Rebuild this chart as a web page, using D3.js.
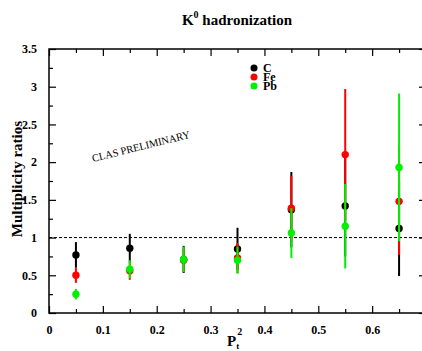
<!DOCTYPE html>
<html>
<head>
<meta charset="utf-8">
<script src="https://cdn.jsdelivr.net/npm/d3@7"></script>
<style>
  body { margin: 0; background: #fff; }
  svg { font-family: "Liberation Serif", "DejaVu Serif", serif; }
</style>
</head>
<body>
<svg id="chart" width="422" height="351"></svg>
<script>
// pt^2 bin centres
const ptBins = [0.05, 0.15, 0.25, 0.35, 0.45, 0.55, 0.65];

// multiplicity ratios and errors
const carbonVals = [0.77, 0.86, 0.71, 0.85, 1.37, 1.42, 1.12];
const carbonErrs = [0.17, 0.19, 0.18, 0.28, 0.50, 0.67, 0.63];
const ironVals = [0.50, 0.56, 0.70, 0.73, 1.39, 2.10, 1.48];
const ironErrs = [0.10, 0.12, 0.15, 0.20, 0.43, 0.87, 0.71];
const leadVals = [0.25, 0.58, 0.71, 0.70, 1.06, 1.15, 1.93];
const leadErrs = [0.07, 0.12, 0.17, 0.18, 0.33, 0.56, 0.98];

const targets = ['C', 'Fe', 'Pb'];
const colors = ['#000000', '#ff0000', '#00f000'];

const xTicks = [0, 0.1, 0.2, 0.3, 0.4, 0.5, 0.6];
const yTicks = [0, 0.5, 1, 1.5, 2, 2.5, 3, 3.5];

const mLeft = 49, mRight = 426, mTop = 49, mBottom = 313;

const x = d3.scaleLinear().domain([0, 0.7]).range([mLeft, mRight]);
const y = d3.scaleLinear().domain([0, 3.5]).range([mBottom, mTop]);

const svg = d3.select('#chart');

// frame
svg.append('rect')
  .attr('x', mLeft).attr('y', mTop)
  .attr('width', mRight - mLeft).attr('height', mBottom - mTop)
  .attr('fill', 'none').attr('stroke', '#000').attr('stroke-width', 1.5);

// axes, ticks drawn inward
const minorX = d3.range(0.05, 0.7, 0.1);
const minorY = d3.range(0.25, 3.5, 0.5);

svg.append('g').attr('transform', `translate(0,${mBottom})`)
  .call(d3.axisBottom(x).tickValues(xTicks).tickSizeInner(-7).tickSizeOuter(0).tickPadding(12)
    .tickFormat(d => d === 0 ? '0' : d3.format('.1f')(d)));
svg.append('g').attr('transform', `translate(0,${mBottom})`)
  .call(d3.axisBottom(x).tickValues(minorX).tickSizeInner(-4).tickSizeOuter(0).tickFormat(''));
svg.append('g').attr('transform', `translate(0,${mTop})`)
  .call(d3.axisTop(x).tickValues(xTicks).tickSizeInner(-7).tickSizeOuter(0).tickFormat(''));
svg.append('g').attr('transform', `translate(0,${mTop})`)
  .call(d3.axisTop(x).tickValues(minorX).tickSizeInner(-4).tickSizeOuter(0).tickFormat(''));

svg.append('g').attr('transform', `translate(${mLeft},0)`)
  .call(d3.axisLeft(y).tickValues(yTicks).tickSizeInner(-7).tickSizeOuter(0).tickPadding(12)
    .tickFormat(d => d === 0 ? '0' : (Number.isInteger(d) ? d : d3.format('.1f')(d))));
svg.append('g').attr('transform', `translate(${mLeft},0)`)
  .call(d3.axisLeft(y).tickValues(minorY).tickSizeInner(-4).tickSizeOuter(0).tickFormat(''));
svg.append('g').attr('transform', `translate(${mRight},0)`)
  .call(d3.axisRight(y).tickValues(yTicks).tickSizeInner(-7).tickSizeOuter(0).tickFormat(''));
svg.append('g').attr('transform', `translate(${mRight},0)`)
  .call(d3.axisRight(y).tickValues(minorY).tickSizeInner(-4).tickSizeOuter(0).tickFormat(''));

svg.selectAll('.domain').remove();
svg.selectAll('.tick line').attr('stroke', '#000').attr('stroke-width', 1.2);
svg.selectAll('.tick text')
  .attr('font-family', '"Liberation Serif", serif')
  .attr('font-weight', 'bold').attr('font-size', 12).attr('fill', '#000');

// reference line at ratio 1
svg.append('line')
  .attr('x1', mLeft).attr('x2', mRight)
  .attr('y1', y(1)).attr('y2', y(1))
  .attr('stroke', '#000').attr('stroke-width', 1)
  .attr('stroke-dasharray', '3,2');

// data series
const series = [
  { name: 'C', vals: carbonVals, errs: carbonErrs, color: colors[0] },
  { name: 'Fe', vals: ironVals, errs: ironErrs, color: colors[1] },
  { name: 'Pb', vals: leadVals, errs: leadErrs, color: colors[2] }
];

series.forEach(s => {
  const g = svg.append('g');
  const pts = ptBins.map((p, i) => ({ p, v: s.vals[i], e: s.errs[i] }));
  g.selectAll('line.err').data(pts).enter().append('line')
    .attr('class', 'err')
    .attr('x1', d => x(d.p)).attr('x2', d => x(d.p))
    .attr('y1', d => y(d.v - d.e)).attr('y2', d => y(d.v + d.e))
    .attr('stroke', s.color).attr('stroke-width', 2);
  g.selectAll('circle').data(pts).enter().append('circle')
    .attr('cx', d => x(d.p)).attr('cy', d => y(d.v))
    .attr('r', 3.7).attr('fill', s.color);
});

// legend
const legend = svg.append('g');
targets.forEach((t, i) => {
  legend.append('circle')
    .attr('cx', 254).attr('cy', 68 + i * 9)
    .attr('r', 3.5).attr('fill', colors[i]);
  legend.append('text')
    .attr('x', 263).attr('y', 72 + i * 9)
    .attr('font-weight', 'bold').attr('font-size', 12)
    .text(t);
});

// title
const title = svg.append('text')
  .attr('x', 237).attr('y', 25)
  .attr('text-anchor', 'middle')
  .attr('font-weight', 'bold').attr('font-size', 15);
title.append('tspan').text('K');
title.append('tspan').attr('font-size', 10).attr('dy', -7).text('0');
title.append('tspan').attr('dy', 7).text(' hadronization');

// axis titles
svg.append('text')
  .attr('transform', 'translate(22,179) rotate(-90)')
  .attr('text-anchor', 'middle')
  .attr('font-weight', 'bold').attr('font-size', 15)
  .text('Multiplicity ratios');

const xl = svg.append('text')
  .attr('x', 227).attr('y', 346)
  .attr('font-weight', 'bold').attr('font-size', 15);
xl.append('tspan').text('P');
xl.append('tspan').attr('font-size', 9).attr('dy', 3).text('t');
xl.append('tspan').attr('font-size', 10).attr('dx', -2).attr('dy', -14).text('2');

// watermark
svg.append('text')
  .attr('transform', 'translate(93,162) rotate(-14)')
  .attr('font-size', 10.5)
  .text('CLAS  PRELIMINARY');
</script>
</body>
</html>
